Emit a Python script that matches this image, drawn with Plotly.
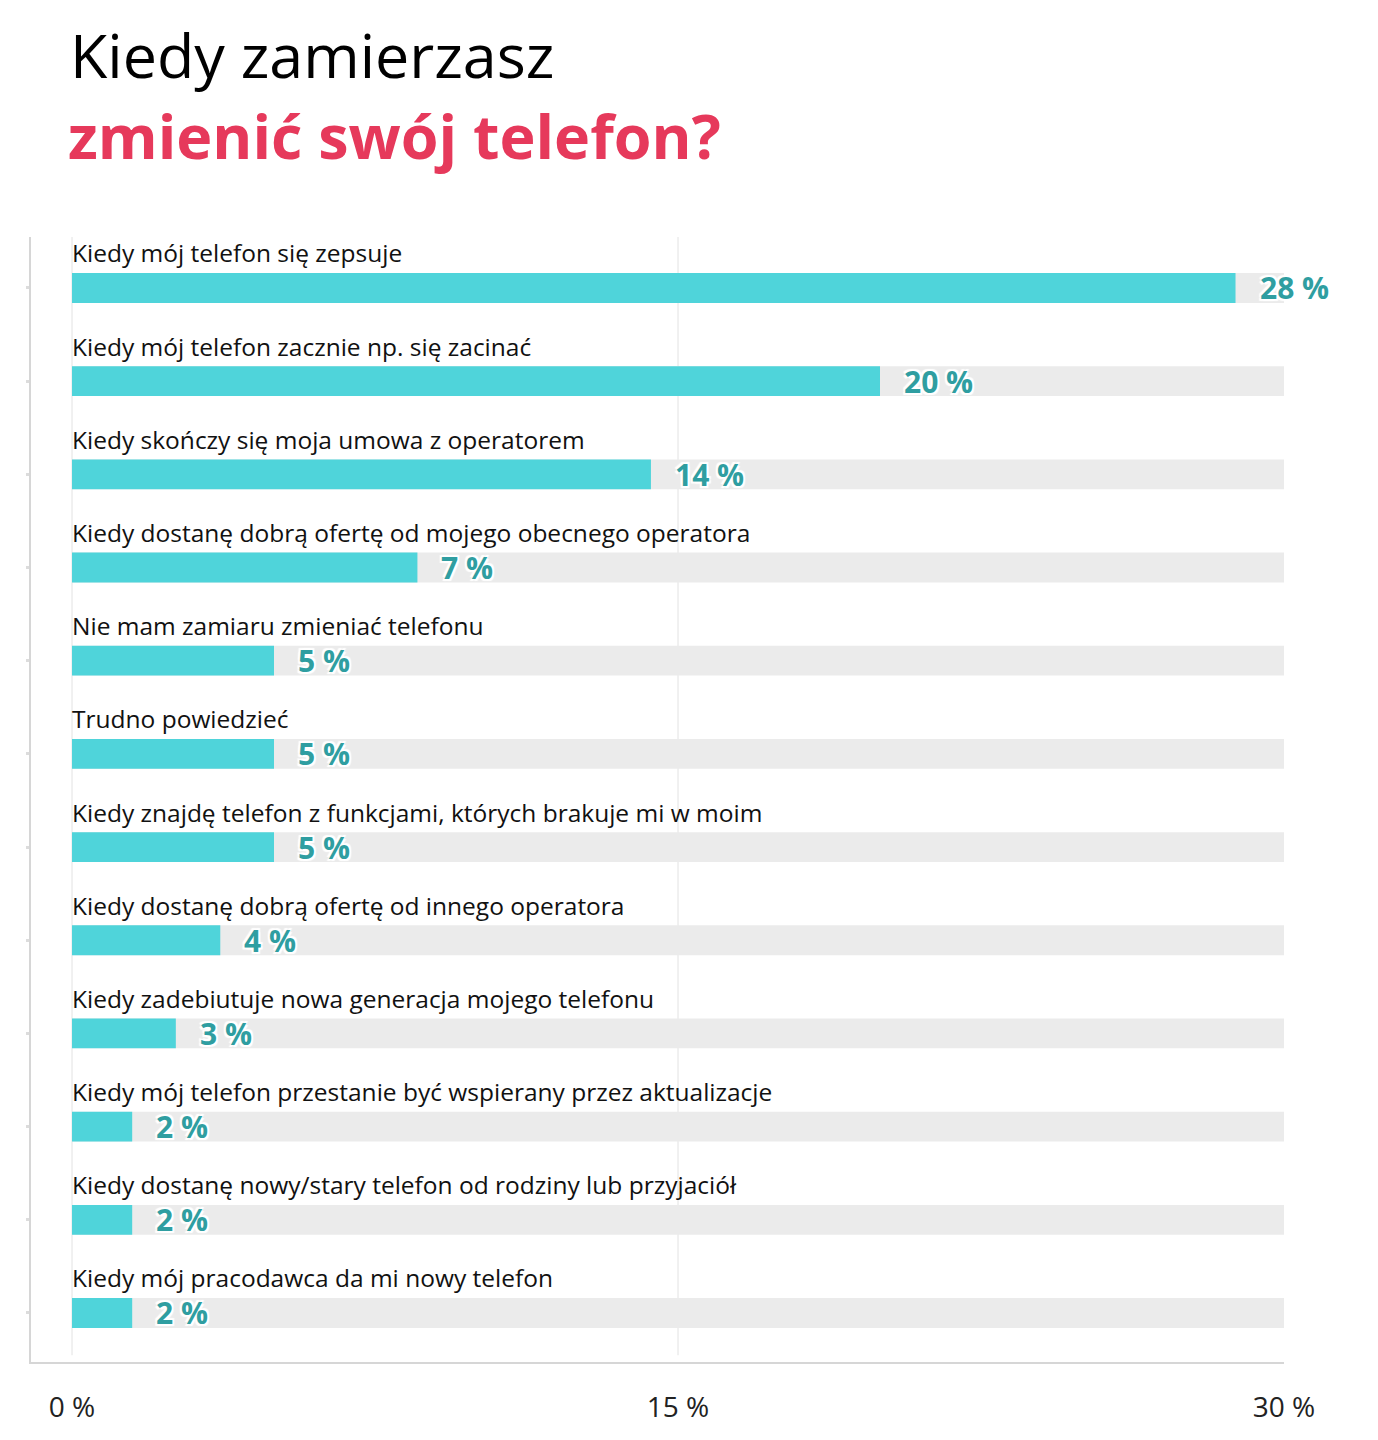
import plotly.graph_objects as go

categories = [
    "Kiedy mój telefon się zepsuje",
    "Kiedy mój telefon zacznie np. się zacinać",
    "Kiedy skończy się moja umowa z operatorem",
    "Kiedy dostanę dobrą ofertę od mojego obecnego operatora",
    "Nie mam zamiaru zmieniać telefonu",
    "Trudno powiedzieć",
    "Kiedy znajdę telefon z funkcjami, których brakuje mi w moim",
    "Kiedy dostanę dobrą ofertę od innego operatora",
    "Kiedy zadebiutuje nowa generacja mojego telefonu",
    "Kiedy mój telefon przestanie być wspierany przez aktualizacje",
    "Kiedy dostanę nowy/stary telefon od rodziny lub przyjaciół",
    "Kiedy mój pracodawca da mi nowy telefon",
]
# bar lengths as drawn (percent)
values = [28.8, 20.0, 14.33, 8.55, 5.0, 5.0, 5.0, 3.67, 2.57, 1.49, 1.49, 1.49]
# printed labels
value_labels = ["28 %", "20 %", "14 %", "7 %", "5 %", "5 %", "5 %", "4 %", "3 %", "2 %", "2 %", "2 %"]
scale_max = 30
tick_vals = [0, 15, 30]
tick_text = ["0 %", "15 %", "30 %"]

rows = list(range(len(categories)))
FONT = "Open Sans"
TEAL = "#4fd4da"
TEAL_TEXT = "#2f9ea1"
RED = "#e6395b"

fig = go.Figure()
fig.add_trace(go.Bar(x=[scale_max] * len(rows), y=rows, orientation="h", width=0.32,
                     marker=dict(color="#ebebeb", line=dict(width=0)), hoverinfo="skip"))
fig.add_trace(go.Bar(x=values, y=rows, orientation="h", width=0.32,
                     marker=dict(color=TEAL, line=dict(width=0))))

# category labels above bars
for i, cat in enumerate(categories):
    fig.add_annotation(x=0, y=i, xref="x", yref="y", text=cat, showarrow=False,
                       xanchor="left", yanchor="middle", yshift=35, xshift=-2,
                       font=dict(family=FONT, size=24.5, color="#111111"))

# value labels
shadow = "2px 2px 1px #fff, -2px -2px 1px #fff, 2px -2px 1px #fff, -2px 2px 1px #fff"
for i, (v, lab) in enumerate(zip(values, value_labels)):
    fig.add_annotation(x=v, y=i, xref="x", yref="y", text="<b>" + lab + "</b>", showarrow=False,
                       xanchor="left", yanchor="middle", xshift=22,
                       font=dict(family=FONT, size=30, color=TEAL_TEXT, shadow=shadow))

# vertical guide lines at 0 and 15
for gx in [0, 15]:
    fig.add_shape(type="line", x0=gx, x1=gx, y0=0.006, y1=1, xref="x", yref="paper",
                  line=dict(color="#e2e2e2", width=1), layer="below")

# title
fig.add_annotation(x=0, y=1.162, xref="x", yref="paper", xanchor="left", yanchor="middle", xshift=-4,
                   text="Kiedy zamierzasz", showarrow=False,
                   font=dict(family=FONT, size=61, color="#000000"))
fig.add_annotation(x=0, y=1.090, xref="x", yref="paper", xanchor="left", yanchor="middle", xshift=-6,
                   text="<b>zmienić swój telefon?</b>", showarrow=False,
                   font=dict(family=FONT, size=61, color=RED))

fig.update_layout(
    width=1378, height=1440,
    margin=dict(l=23, r=102, t=229, b=86),
    barmode="overlay",
    showlegend=False,
    plot_bgcolor="white",
    paper_bgcolor="white",
    font=dict(family=FONT),
    xaxis=dict(range=[-1.015, scale_max], tickvals=tick_vals, ticktext=tick_text,
               showgrid=False, zeroline=False, showline=True, linecolor="#d6d6d6", linewidth=2,
               ticks="", ticklabelstandoff=19, tickfont=dict(family=FONT, size=28, color="#222222")),
    yaxis=dict(range=[11.526, -0.547], tickvals=rows, showticklabels=False,
               showgrid=False, zeroline=False, showline=True, linecolor="#d6d6d6", linewidth=2,
               ticks="outside", ticklen=3, tickwidth=3, tickcolor="#dcdcdc"),
)

fig.write_html("out.html")
